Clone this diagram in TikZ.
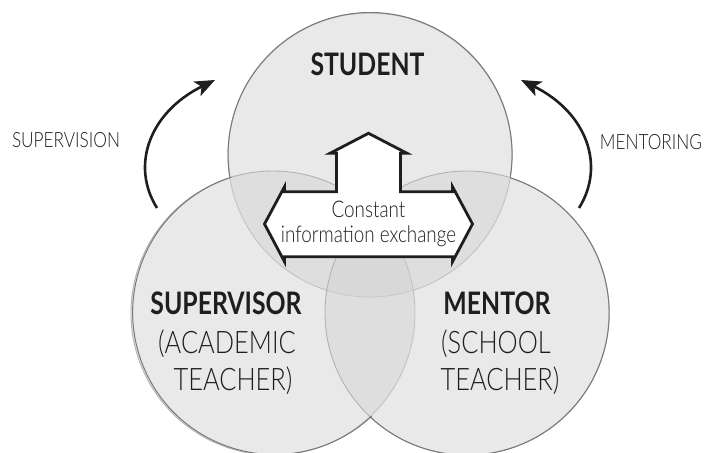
\documentclass[tikz,border=0pt]{standalone}
\usepackage{fontspec}
\setmainfont{Lato}
\newfontfamily\lightfont{Lato Light}[FakeStretch=0.82]
\newfontfamily\heavyfont{Lato Bold}[FakeStretch=0.8]
\usetikzlibrary{arrows.meta}

\definecolor{ringfill}{RGB}{211,211,211}
\definecolor{ringedge}{RGB}{178,178,178}
\definecolor{outeredge}{RGB}{120,120,120}
\definecolor{ink}{RGB}{30,30,30}

\tikzset{
  ring/.style={circle, minimum size=284pt, inner sep=0pt, outer sep=0pt,
    fill=ringfill, fill opacity=0.5, draw=ringedge, line width=0.9pt},
  rim/.style={draw=outeredge, line width=1pt},
  exchange/.style={fill=white, draw=ink, line width=2.8pt, line join=miter},
  rolename/.style={font=\heavyfont\fontsize{31}{31}\selectfont, text=ink, inner sep=0pt, anchor=base},
  roledetail/.style={font=\lightfont\fontsize{31}{31}\selectfont, text=ink, inner sep=0pt, anchor=base},
  sidelabel/.style={font=\lightfont\fontsize{21}{21}\selectfont, text=ink, inner sep=0pt, anchor=base},
  flowtext/.style={font=\lightfont\fontsize{23}{23}\selectfont, text=ink, inner sep=0pt, anchor=base},
  loop arrow/.style={draw=ink, line width=2.6pt,
    -{Stealth[length=20pt, width=16pt, inset=5pt]}},
}

\begin{document}
\begin{tikzpicture}[x=1pt, y=1pt]
\useasboundingbox (0,0) rectangle (706,452);

% the three overlapping circles
\node[ring] (student)    at (370,297) {};
\node[ring] (supervisor) at (273,139) {};
\node[ring] (mentor)     at (467,139) {};

% darker outline along the outside of the union
\draw[rim] (student.-9.2) arc[start angle=-9.2, end angle=189.2, radius=142pt];
\draw[rim] (supervisor.107.7) arc[start angle=107.7, end angle=313.1, radius=142pt];
\draw[rim] (mentor.-133.1) arc[start angle=-133.1, end angle=72.3, radius=142pt];

% three-way arrow in the middle
\draw[exchange] (368.5,318.7) -- (330,298.7) -- (336.5,298.7) -- (336.5,260.3)
  -- (284.5,260.3) -- (284.5,265.3) -- (264.5,228) -- (284.5,190.3) -- (284.5,195.3)
  -- (452.5,195.3) -- (452.5,190.3) -- (472.5,228) -- (452.5,265.3) -- (452.5,260.3)
  -- (400.5,260.3) -- (400.5,298.7) -- (407,298.7) -- cycle;
\node[flowtext] (constant) at (368.5,234) {Constant};
\node[flowtext] (exchangetext) at (368.5,209) {information exchange};

% circle labels
\node[rolename] (studentname) at (367.5,376) {STUDENT};

\node[rolename]   (supervisorname) at (226,137) {SUPERVISOR};
\node[roledetail] (supervisorrole) at (227,98)  {(ACADEMIC};
\node[roledetail] (supervisorkind) at (233,61)  {TEACHER)};

\node[rolename]   (mentorname) at (497,137) {MENTOR};
\node[roledetail] (mentorrole) at (496,98)  {(SCHOOL};
\node[roledetail] (mentorkind) at (500,61)  {TEACHER)};

% side relations
\node[sidelabel] (supervision) at (66,304) {SUPERVISION};
\node[sidelabel] (mentoring)   at (651,302.5) {MENTORING};

\coordinate (supstart) at (157,244);
\coordinate (supend)   at (215,372);
\coordinate (menstart) at (579,244);
\coordinate (menend)   at (521,372);
\draw[loop arrow] (supstart) .. controls (130,287) and (150,340) .. (supend);
\draw[loop arrow] (menstart) .. controls (606,287) and (586,340) .. (menend);
\end{tikzpicture}
\end{document}
